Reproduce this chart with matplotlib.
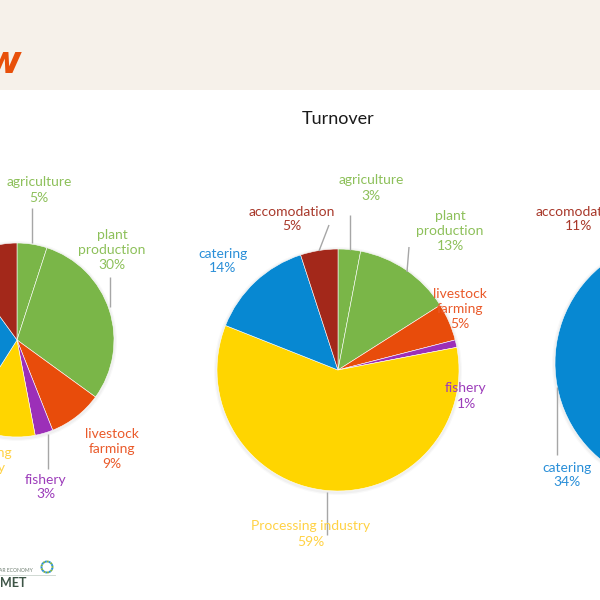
import matplotlib
matplotlib.use("Agg")
import matplotlib.pyplot as plt
from matplotlib.patches import Rectangle, Circle

# ---------------- data ----------------
sectors = ["agriculture", "plant\nproduction", "livestock\nfarming", "fishery",
           "Processing\nindustry", "catering", "accomodation"]
left_values = [5, 30, 9, 3, 12, 31, 10]
center_values = [3, 13, 5, 1, 59, 14, 5]
# first five shares of the right pie are cropped out of the picture (estimates)
right_values = [4, 14, 6, 1, 30, 34, 11]
title = "Turnover"

colors = ["#7AB648", "#7AB648", "#E84C0B", "#9C2FB8", "#FFD500", "#0788D2", "#A3281A"]
label_colors = ["#8DC05A", "#8DC05A", "#EA5A2A", "#9C3CBA", "#FFD245", "#2A8FD8", "#A8382A"]

plt.rcParams['font.family'] = ['Lato', 'DejaVu Sans']

fig = plt.figure(figsize=(6, 6), dpi=100)
ax = fig.add_axes([0, 0, 1, 1])

H = 600.0
def Y(y):
    return H - y

# top beige band
fig.add_artist(Rectangle((0, 1 - 90 / H), 1, 90 / H, transform=fig.transFigure,
                         facecolor="#F6F1EA", edgecolor="none", zorder=0))
fig.text(21 / 600, 1 - 73 / H, "w", ha="right", va="baseline", fontsize=27,
         fontweight="bold", fontstyle="italic", color="#E8500A",
         family="DejaVu Sans")


def draw_pie(values, cx, cy, r, label_pos, leaders, texts=None):
    for k, a in ((3.0, 0.025), (1.8, 0.035)):
        ax.add_patch(Circle((cx, Y(cy) - 1.0), r + k, facecolor="#000000", alpha=a,
                            edgecolor="none", zorder=1))
    ax.pie(values, colors=colors, startangle=90, counterclock=False,
           center=(cx, Y(cy)), radius=r,
           wedgeprops=dict(edgecolor="white", linewidth=0.4, zorder=2))
    for (x0, y0, x1, y1) in leaders:
        ax.plot([x0, x1], [Y(y0), Y(y1)], color="#A6A6A6", lw=1, zorder=3,
                solid_capstyle="butt")
    for i, (v, pos) in enumerate(zip(values, label_pos)):
        if pos is None:          # label lies outside the cropped picture
            continue
        lx, ly = pos
        name = sectors[i] if texts is None else texts[i]
        ax.text(lx, Y(ly), f"{name}\n{v}%", ha="center", va="center",
                fontsize=10, color=label_colors[i], linespacing=1.3, zorder=4)


# left pie (mostly cropped)
draw_pie(left_values, 17, 340, 97,
         [(39, 190), (112, 250), (112, 449), (46, 487), (-20, 468),
          None, None],
         [(32, 208, 32, 243), (110, 277, 110, 307), (48, 434, 48, 469)])

# center pie
center_texts = list(sectors)
center_texts[4] = "Processing industry"
draw_pie(center_values, 338, 370, 121,
         [(371, 188), (450, 231), (460, 309), (466, 396), (311, 534),
          (223, 261), (292, 219)],
         [(350, 215, 350, 250), (409, 247, 407, 272), (327, 492, 327, 535),
          (329, 225, 319, 251)],
         texts=center_texts)

# right pie (mostly cropped)
draw_pie(right_values, 680, 363, 125,
         [None, None, None, None, None, (567, 475), (579, 219)],
         [(557, 387, 557, 455)])

ax.text(338, Y(119), title, ha="center", va="center", fontsize=13,
        color="#1A1A1A", zorder=5)

# bottom-left logo fragment
ax.text(-1, Y(570), "AR ECONOMY", ha="left", va="center", fontsize=3.6,
        color="#6F7F72", zorder=5)
ax.plot([0, 55], [Y(575), Y(575)], color="#C9D3CC", lw=0.6, zorder=5)
ax.add_patch(Circle((47, Y(567)), 5.5, facecolor="none", edgecolor="#7CB342",
                    lw=1.4, linestyle=(0, (1, 1)), zorder=5))
ax.add_patch(Circle((47, Y(567)), 5.5, facecolor="none", edgecolor="#2A8FD8",
                    lw=1.4, linestyle=(1, (1, 1)), zorder=5))
ax.text(0, Y(583), "MET", ha="left", va="center", fontsize=9, fontweight="bold",
        color="#3D5446", zorder=5)

ax.set_xlim(0, 600)
ax.set_ylim(0, 600)
ax.set_aspect("equal", adjustable="box")
ax.axis("off")

fig.savefig("out.png", dpi=100)
